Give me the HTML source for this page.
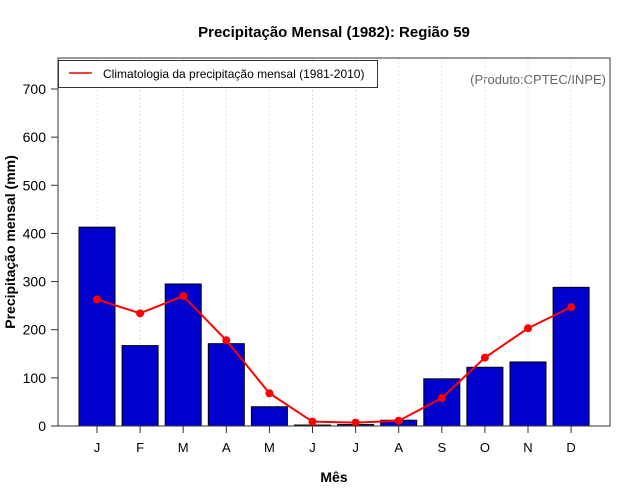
<!DOCTYPE html>
<html><head><meta charset="utf-8"><style>
body{margin:0;background:#fff;}
svg{display:block;font-family:"Liberation Sans",sans-serif;}
</style></head><body>
<svg id="c" width="640" height="500">
<text x="334" y="37" text-anchor="middle" font-size="15" font-weight="bold">Precipitação Mensal (1982): Região 59</text>
<text x="334" y="482" text-anchor="middle" font-size="14" font-weight="bold">Mês</text>
<text transform="translate(15,242) rotate(-90)" text-anchor="middle" font-size="14" font-weight="bold">Precipitação mensal (mm)</text>
<text x="606" y="84" text-anchor="end" font-size="13" fill="#666">(Produto:CPTEC/INPE)</text>
<g id="grid"></g><g id="bars"></g><g id="line"></g><g id="axes"></g>
<rect x="58" y="58" width="552" height="368" fill="none" stroke="#333" stroke-width="1"/>
<g>
<rect x="58.5" y="60.5" width="319" height="27" fill="#fff" stroke="#333"/>
<line x1="69" y1="73" x2="92" y2="73" stroke="red" stroke-width="1.5"/>
<text x="103" y="78" font-size="12">Climatologia da precipitação mensal (1981-2010)</text>
</g>
</svg>
<script>
const months=["J","F","M","A","M","J","J","A","S","O","N","D"];
const observed=[413,167,295,171,40,2,3,12,98,122,133,288];
const climatology=[263,234,270,178,68,9,7,11,58,142,203,247];
const yTicks=[0,100,200,300,400,500,600,700];
const NS="http://www.w3.org/2000/svg";
const x=i=>97+i*43.1;
const y=v=>426-v*(337/700);
function mk(t,a,p){const e=document.createElementNS(NS,t);for(const k in a)e.setAttribute(k,a[k]);p.appendChild(e);return e;}
const G=document.getElementById('grid'),B=document.getElementById('bars'),L=document.getElementById('line'),A=document.getElementById('axes');
months.forEach((m,i)=>{
 const g=mk('line',{x1:x(i),x2:x(i),y1:58,y2:426,stroke:'#e2e2e2','stroke-dasharray':'2,2'},G);
 
 
 const b=mk('rect',{x:x(i)-18,y:y(observed[i]),width:36,height:426-y(observed[i]),fill:'#0000cd',stroke:'#000','stroke-width':1},B);
 
 
 const t=mk('line',{x1:x(i),x2:x(i),y1:426,y2:433,stroke:'#333'},A);
 
 
 const lb=mk('text',{x:x(i),y:452,'text-anchor':'middle','font-size':13},A);
 lb.textContent=m;
 
 
});
const pl=mk('polyline',{points:climatology.map((v,i)=>x(i)+','+y(v)).join(' '),fill:'none',stroke:'red','stroke-width':2},L);


climatology.forEach((v,i)=>{
 const c=mk('circle',{cx:x(i),cy:y(v),r:4,fill:'red'},L);
 
 
});
yTicks.forEach(v=>{
 const t=mk('line',{x1:51,x2:58,y1:y(v),y2:y(v),stroke:'#333'},A);
 
 
 const lb=mk('text',{x:46,y:y(v)+5,'text-anchor':'end','font-size':14},A);
 lb.textContent=v;
 
 
});
</script>
</body></html>
